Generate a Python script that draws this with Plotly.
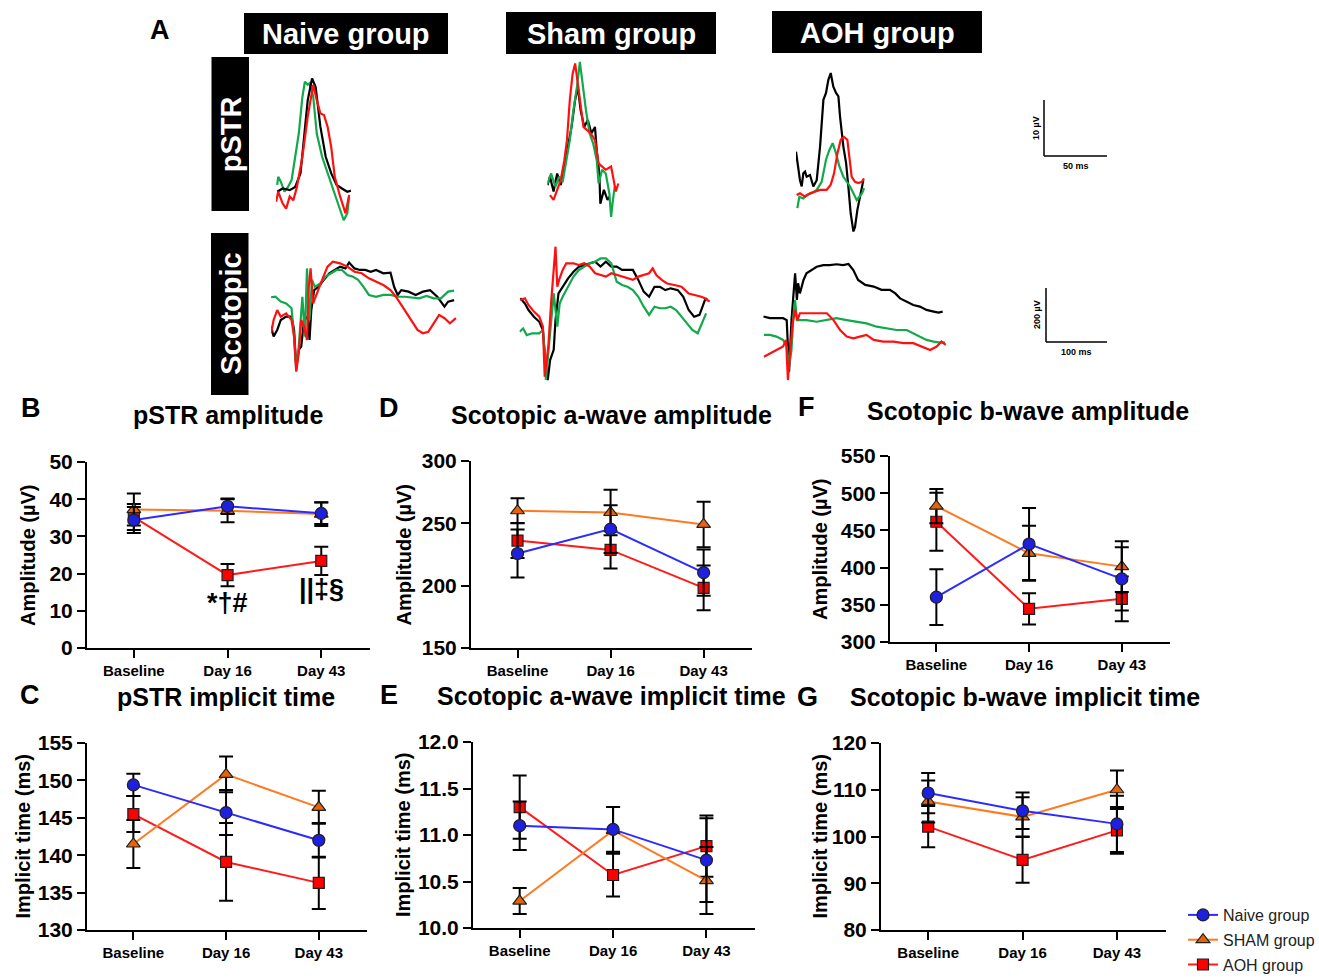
import plotly.graph_objects as go

W, H = 1319, 979
FONT = "Liberation Sans, Arial, Helvetica, sans-serif"

# ---------------- data ----------------
categories = ["Baseline", "Day 16", "Day 43"]
group_names = ["Naive group", "SHAM group", "AOH group"]

# B  pSTR amplitude (µV)
pstr_amp_naive = [34.4, 38.1, 36.2]
pstr_amp_naive_err = [3.5, 2.1, 2.9]
pstr_amp_sham = [37.2, 36.9, 36.0]
pstr_amp_sham_err = [4.3, 3.1, 3.2]
pstr_amp_aoh = [35.2, 19.6, 23.4]
pstr_amp_aoh_err = [3.5, 3.0, 3.8]

# D  scotopic a-wave amplitude (µV)
a_amp_naive = [225.8, 245.4, 210.5]
a_amp_naive_err = [19.3, 19.2, 18.5]
a_amp_sham = [260.1, 258.7, 249.1]
a_amp_sham_err = [10.0, 18.2, 18.2]
a_amp_aoh = [236.2, 228.7, 198.2]
a_amp_aoh_err = [14.0, 15.0, 18.0]

# F  scotopic b-wave amplitude (µV)
b_amp_naive = [360.3, 431.7, 384.8]
b_amp_naive_err = [37.5, 48.5, 42.5]
b_amp_sham = [482.6, 419.2, 401.3]
b_amp_sham_err = [23.0, 37.0, 34.0]
b_amp_aoh = [461.6, 344.6, 358.0]
b_amp_aoh_err = [39.0, 21.0, 30.0]

# C  pSTR implicit time (ms)
pstr_it_naive = [149.4, 145.7, 142.0]
pstr_it_naive_err = [1.5, 3.0, 2.3]
pstr_it_sham = [141.5, 150.8, 146.4]
pstr_it_sham_err = [3.2, 2.4, 2.2]
pstr_it_aoh = [145.5, 139.1, 136.3]
pstr_it_aoh_err = [2.4, 5.2, 3.5]

# E  scotopic a-wave implicit time (ms)
a_it_naive = [11.10, 11.06, 10.73]
a_it_naive_err = [0.26, 0.24, 0.45]
a_it_sham = [10.29, 11.05, 10.51]
a_it_sham_err = [0.14, 0.25, 0.36]
a_it_aoh = [11.30, 10.57, 10.88]
a_it_aoh_err = [0.34, 0.23, 0.33]

# G  scotopic b-wave implicit time (ms)
b_it_naive = [109.3, 105.5, 102.7]
b_it_naive_err = [4.3, 3.9, 6.0]
b_it_sham = [107.5, 104.2, 110.0]
b_it_sham_err = [4.5, 4.2, 4.1]
b_it_aoh = [102.1, 95.0, 101.3]
b_it_aoh_err = [4.4, 4.9, 5.0]

# A  representative waveforms: time (ms), amplitude (µV)
pstr_naive_black_t = [0.9, 5.2, 11, 15.4, 19.7, 22.6, 25.5, 29, 31.9, 35.7, 40, 44.4, 48.7, 53.1, 57.4, 60.3]
pstr_naive_black_v = [0, 0.6, 0.3, 0.9, 3.5, 9.8, 17.3, 21.4, 19.8, 12.3, 6.6, 3.5, 1.3, 0.6, 0, 0.2]
pstr_naive_green_t = [0.9, 1.7, 3.8, 6.7, 9.6, 12.5, 15.4, 18.3, 21.2, 23.2, 25.5, 27, 29.9, 32.8, 37.1, 41.5, 45.8, 50.2, 54.5, 57.4, 58.9]
pstr_naive_green_v = [1.3, 2.8, 1.9, 0, 0.9, 2.2, 6.6, 11, 17.9, 20.8, 20.2, 20.5, 18, 11, 6.6, 3.5, 0.3, -2.8, -5.4, -4.1, -1.0]
pstr_naive_red_t = [0, 1.7, 5.2, 8.1, 11, 13.9, 16.8, 21.2, 25.5, 29.9, 32.8, 35.7, 38.6, 41.5, 44.4, 47.3, 51.6, 56, 58.9]
pstr_naive_red_v = [-1.9, 0, -2.2, -3.2, -0.9, -1.6, 0.9, 6.6, 14.2, 20.2, 17.3, 14.8, 14.5, 12.3, 8.5, 2.8, -0.9, -4.1, -0.6]

pstr_sham_black_t = [0, 2, 4.9, 7.8, 10.7, 13.6, 16.5, 19.4, 22.3, 24.4, 26.7, 29.6, 32.5, 35.4, 38.3, 39.7, 41.8, 42.6, 45.5, 48.4, 49.9]
pstr_sham_black_v = [0.3, 1.9, -0.9, 2.5, 0.3, 3.8, 7.6, 11.3, 16.4, 18.9, 14.5, 11.3, 12.6, 10.1, 11.3, 6.9, 2.5, -3.2, -0.6, -2.5, -1.9]
pstr_sham_green_t = [0, 2.9, 6.4, 9.3, 12.2, 15.1, 18, 20.9, 23.8, 26.1, 28.1, 31, 33.9, 36.8, 39.7, 41.2, 44.1, 47, 49.9, 51.3, 52.8, 54.2]
pstr_sham_green_v = [0.6, 2.5, 0, 1.9, 0.9, 5, 8.8, 14.5, 18.9, 23.6, 19.5, 14.5, 10.1, 8.2, 5, 0.6, 3.2, 2.5, -1.3, -5.7, -2.5, 0]
pstr_sham_red_t = [2, 4.9, 7.8, 10.7, 13.6, 15.7, 18, 20.3, 22.3, 24.4, 26.7, 29, 31.9, 34.8, 38.3, 41.2, 44.1, 47, 51.3, 52.8, 55.1, 57.1]
pstr_sham_red_v = [-1.6, -2.5, -0.6, 1.3, 5, 8.8, 16.4, 21.4, 23.3, 19.5, 14.5, 11.3, 10.7, 10.1, 8.8, 4.4, 3.8, 3.2, 3.8, 1.9, -0.9, 0.6]

pstr_aoh_black_t = [0, 1.1, 3.2, 4.6, 5.9, 7.3, 8.6, 11.3, 14, 16.7, 19.4, 22.1, 24.2, 26.1, 28, 30.1, 32.3, 34.2, 35.5, 38.2, 40.4, 42.2, 44.1, 46.3, 47.6, 49.5, 51.6, 54.3]
pstr_aoh_black_v = [7.3, 5.3, 2.3, 1.2, 3.5, 3.8, 2.9, 3.2, 1.2, 2.3, 8.2, 16.4, 17.6, 19.9, 21.1, 18.7, 17.6, 17, 13.5, 8.2, 5.3, 1.2, -3.5, -6.7, -5.9, -2.9, -0.6, 2.3]
pstr_aoh_green_t = [1.1, 2.7, 5.9, 8.6, 12.6, 16.7, 20.7, 24.2, 26.9, 29.6, 32.3, 35, 38.2, 40.9, 43.6, 46.3, 49, 51.1, 53.3, 54.9]
pstr_aoh_green_v = [-2.6, -0.6, -0.9, -0.3, 0, 0.6, 2, 5.9, 7.6, 8.8, 7, 4.7, 2.9, 2, 1.2, 0, -1.2, -0.6, 0, 0.9]
pstr_aoh_red_t = [0.5, 3.2, 7.3, 11.3, 15.3, 19.4, 24.7, 28, 30.7, 33.4, 36.1, 38.7, 41.4, 43.6, 44.9, 47.6, 50.3, 53, 54.9]
pstr_aoh_red_v = [-0.3, 0, -0.6, 0, 0.3, 0.6, 0.6, 1.5, 3.5, 7, 9.4, 9.9, 9.4, 5.9, 2.9, 2, 1.8, 2, 2.6]

scot_naive_black_t = [0, 4.2, 10.2, 16.1, 25.1, 34.1, 38.3, 41.9, 46.1, 50.2, 55, 61, 64, 67, 71.8, 79, 88, 97, 106, 115, 124, 130, 139, 148, 157, 166, 175, 187, 199, 205, 211, 217, 229, 241, 253, 265, 277, 289, 295, 305]
scot_naive_black_v = [-26, -65, -39, 0, 13, 13, -39, -183, -117, -104, 0, 13, -78, 39, 117, 130, 157, 183, 196, 209, 202, 225, 202, 196, 196, 189, 196, 183, 185, 130, 98, 117, 111, 98, 111, 117, 91, 52, 72, 78]
scot_naive_green_t = [0, 7.2, 16.1, 25.1, 34.1, 38.3, 41.9, 46.1, 52.1, 56.3, 59.8, 64, 68.2, 73, 82, 91, 100, 109, 118, 127, 136, 145, 154, 163, 175, 187, 199, 211, 223, 235, 247, 259, 271, 283, 295, 305]
scot_naive_green_v = [89, 91, 72, 65, 46, -65, -196, -104, 91, -65, 202, 0, 157, 130, 143, 170, 183, 196, 196, 176, 170, 157, 130, 98, 91, 98, 98, 91, 91, 89, 85, 94, 85, 85, 111, 115]
scot_naive_red_t = [0, 4.2, 10.2, 16.1, 25.1, 34.1, 38.3, 41.9, 46.1, 50.2, 55, 59.8, 62.8, 65.8, 70, 76, 85, 94, 103, 115, 127, 139, 151, 163, 175, 187, 199, 208, 217, 226, 235, 244, 253, 262, 271, 280, 289, 298, 308]
scot_naive_red_v = [-52, 0, 39, 13, 26, 0, -65, -202, -130, 0, -26, -78, 130, 202, 65, 104, 157, 209, 228, 222, 209, 189, 183, 163, 150, 137, 117, 91, 59, 26, -7, -39, -52, -46, -13, 20, 7, -13, 7]

scot_sham_black_t = [1.2, 9, 15, 24, 33, 39, 43, 47, 51, 57, 60, 65, 72, 81, 90, 99, 108, 117, 126, 135, 144, 153, 162, 171, 180, 189, 198, 207, 216, 225, 234, 243, 252, 264, 273, 282, 291, 300, 309, 313]
scot_sham_black_v = [85, 65, 39, 13, -7, -39, -157, -235, -157, -117, 0, 104, 130, 163, 189, 209, 215, 222, 228, 209, 228, 209, 209, 196, 196, 196, 157, 111, 91, 130, 130, 117, 124, 117, 91, 39, 13, 20, 78, 85]
scot_sham_green_t = [0, 6, 12, 21, 33, 39, 42, 44, 48, 53, 57, 63, 67, 72, 81, 90, 99, 108, 117, 126, 135, 144, 153, 162, 171, 180, 189, 198, 207, 216, 225, 234, 243, 252, 261, 270, 279, 288, 297, 306, 311]
scot_sham_green_v = [-46, -33, -59, -52, -52, -39, -130, -235, -130, 0, 104, -26, 65, 91, 130, 170, 196, 209, 222, 228, 241, 241, 222, 150, 137, 130, 117, 91, 52, 20, 52, 46, 46, 52, 39, 13, -13, -39, -52, 0, 26]
scot_sham_red_t = [1.2, 9, 15, 24, 33, 39, 42, 45, 48, 53, 57, 60, 63, 66, 72, 78, 90, 99, 108, 117, 126, 135, 144, 153, 162, 171, 180, 189, 198, 207, 216, 222, 228, 237, 246, 258, 270, 282, 294, 303, 309, 317]
scot_sham_red_v = [78, 85, 59, 33, 13, -26, -222, -157, -104, 78, 196, 287, 130, 157, 196, 222, 222, 215, 222, 209, 183, 176, 170, 183, 176, 170, 163, 157, 170, 176, 183, 202, 176, 157, 143, 137, 130, 104, 98, 91, 85, 72]

scot_aoh_black_t = [0, 11, 22, 33, 39, 43, 47, 50, 53, 56, 58, 61, 67, 72, 81, 89, 100, 111, 122, 133, 142, 150, 158, 170, 184, 197, 211, 220, 228, 239, 250, 261, 272, 284, 292, 299]
scot_aoh_black_v = [61, 55, 55, 55, 48, -140, 48, 121, 218, 121, 182, 145, 194, 218, 230, 242, 248, 248, 251, 248, 252, 230, 194, 176, 170, 158, 158, 145, 127, 115, 103, 97, 85, 79, 75, 79]
scot_aoh_green_t = [1, 11, 22, 33, 39, 43, 47, 50, 53, 56, 61, 72, 89, 106, 122, 139, 156, 172, 189, 206, 222, 239, 250, 261, 272, 284, 295, 303]
scot_aoh_green_v = [-6, -6, -12, -24, -48, -121, -61, 61, 121, 48, 48, 48, 42, 48, 55, 48, 42, 36, 24, 18, 12, 12, 0, -12, -24, -30, -34, -34]
scot_aoh_red_t = [1, 11, 22, 33, 38, 41, 45, 49, 53, 57, 61, 72, 89, 106, 117, 128, 139, 150, 161, 172, 184, 200, 217, 234, 250, 264, 278, 289, 297, 304]
scot_aoh_red_v = [-85, -73, -61, -48, -24, -170, -61, 36, 85, 48, 73, 73, 73, 73, 48, 12, -12, -18, -12, -6, -24, -30, -30, -36, -36, -48, -61, -48, -30, -42]

# ---------------- helpers ----------------
def fx(p):
    return p / W


def fy(p):
    return 1 - p / H


STYLES = {
    "Naive group": dict(line="#2b2bff", fill="#1f1fe0", symbol="circle", size=12, rank=1),
    "SHAM group": dict(line="#ff7a1f", fill="#e8620a", symbol="triangle-up", size=12, rank=2),
    "AOH group": dict(line="#ff1a1a", fill="#ff0000", symbol="square", size=11, rank=3),
}
TRACE_COLORS = {"black": "#000000", "green": "#12a84c", "red": "#ff1010"}

fig = go.Figure()
layout = {}
annotations = []
shapes = []

panels = [
    dict(idx=1, box=(87, 370, 462, 648), yr=[0, 50], dtick=10, fmt="", ytitle="Amplitude (µV)", ytx=28,
         title="pSTR amplitude", txy=(228, 415), letter="B", lxy=(31, 408),
         series=[(pstr_amp_naive, pstr_amp_naive_err), (pstr_amp_sham, pstr_amp_sham_err), (pstr_amp_aoh, pstr_amp_aoh_err)]),
    dict(idx=2, box=(471, 752, 461, 648), yr=[150, 300], dtick=50, fmt="", ytitle="Amplitude (µV)", ytx=403,
         title="Scotopic a-wave amplitude", txy=(611, 415), letter="D", lxy=(389, 408),
         series=[(a_amp_naive, a_amp_naive_err), (a_amp_sham, a_amp_sham_err), (a_amp_aoh, a_amp_aoh_err)]),
    dict(idx=3, box=(890, 1170, 456, 642), yr=[300, 550], dtick=50, fmt="", ytitle="Amplitude (µV)", ytx=820,
         title="Scotopic b-wave amplitude", txy=(1028, 411), letter="F", lxy=(806, 407),
         series=[(b_amp_naive, b_amp_naive_err), (b_amp_sham, b_amp_sham_err), (b_amp_aoh, b_amp_aoh_err)]),
    dict(idx=4, box=(87, 367, 743, 930), yr=[130, 155], dtick=5, fmt="", ytitle="Implicit time (ms)", ytx=22,
         title="pSTR implicit time", txy=(226, 697), letter="C", lxy=(30, 695),
         series=[(pstr_it_naive, pstr_it_naive_err), (pstr_it_sham, pstr_it_sham_err), (pstr_it_aoh, pstr_it_aoh_err)]),
    dict(idx=5, box=(473, 755, 742, 928), yr=[10, 12], dtick=0.5, fmt=".1f", ytitle="Implicit time (ms)", ytx=403,
         title="Scotopic a-wave implicit time", txy=(611, 696), letter="E", lxy=(389, 695),
         series=[(a_it_naive, a_it_naive_err), (a_it_sham, a_it_sham_err), (a_it_aoh, a_it_aoh_err)]),
    dict(idx=6, box=(881, 1166, 743, 930), yr=[80, 120], dtick=10, fmt="", ytitle="Implicit time (ms)", ytx=819,
         title="Scotopic b-wave implicit time", txy=(1025, 697), letter="G", lxy=(807, 697),
         series=[(b_it_naive, b_it_naive_err), (b_it_sham, b_it_sham_err), (b_it_aoh, b_it_aoh_err)]),
]

for p in panels:
    i = p["idx"]
    x0, x1, y0, y1 = p["box"]
    layout[f"xaxis{i}"] = dict(
        domain=[fx(x0), fx(x1)], anchor=f"y{i}", type="category",
        categoryorder="array", categoryarray=categories, range=[-0.5, 2.52],
        showline=True, linecolor="black", linewidth=2, ticks="outside", ticklen=8,
        tickwidth=2, tickcolor="black", showgrid=False, zeroline=False,
        tickfont=dict(family=FONT, size=15, color="black", weight="bold"),
    )
    layout[f"yaxis{i}"] = dict(
        domain=[fy(y1), fy(y0)], anchor=f"x{i}", range=p["yr"], tick0=p["yr"][0],
        dtick=p["dtick"], tickformat=p["fmt"], showline=True, linecolor="black",
        linewidth=2, ticks="outside", ticklen=8, tickwidth=2, tickcolor="black",
        showgrid=False, zeroline=False,
        tickfont=dict(family=FONT, size=21, color="black", weight="bold"),
    )
    # draw AOH, SHAM then Naive (naive on top)
    for gi in [2, 1, 0]:
        name = group_names[gi]
        st = STYLES[name]
        vals, errs = p["series"][gi]
        fig.add_trace(go.Scatter(
            x=categories, y=vals, name=name, mode="lines+markers",
            xaxis=f"x{i}", yaxis=f"y{i}", legendgroup=name,
            line=dict(color=st["line"], width=2),
            marker=dict(symbol=st["symbol"], size=st["size"], color=st["fill"],
                        line=dict(color="#202020", width=1.2)),
            error_y=dict(type="data", array=errs, visible=True, color="black",
                         thickness=2, width=7),
            showlegend=(i == 6), legendrank=st["rank"], cliponaxis=False,
        ))
    yc = (y0 + y1) / 2
    annotations.append(dict(x=fx(p["ytx"]), y=fy(yc), xref="paper", yref="paper",
                            text=p["ytitle"], textangle=-90, showarrow=False,
                            font=dict(family=FONT, size=20, color="black", weight="bold"),
                            xanchor="center", yanchor="middle"))
    annotations.append(dict(x=fx(p["txy"][0]), y=fy(p["txy"][1]), xref="paper", yref="paper",
                            text=p["title"], showarrow=False,
                            font=dict(family=FONT, size=25, color="black", weight="bold"),
                            xanchor="center", yanchor="middle"))
    annotations.append(dict(x=fx(p["lxy"][0]), y=fy(p["lxy"][1]), xref="paper", yref="paper",
                            text=p["letter"], showarrow=False,
                            font=dict(family=FONT, size=27, color="black", weight="bold"),
                            xanchor="center", yanchor="middle"))

# significance marks in B
annotations.append(dict(x="Day 16", y=12.1, xref="x1", yref="y1", text="*†#", showarrow=False,
                        font=dict(family=FONT, size=27, color="black", weight="bold")))
annotations.append(dict(x="Day 43", y=15.9, xref="x1", yref="y1", text="||‡§", showarrow=False,
                        font=dict(family=FONT, size=27, color="black", weight="bold")))

# ---------------- panel A: waveforms ----------------
wave_cells = [
    (7, 276.1, 191.7, 1.24, 5.29, 50, 245,
     [(pstr_naive_green_t, pstr_naive_green_v, "green"), (pstr_naive_black_t, pstr_naive_black_v, "black"), (pstr_naive_red_t, pstr_naive_red_v, "red")]),
    (8, 547.5, 186.7, 1.24, 5.29, 50, 245,
     [(pstr_sham_black_t, pstr_sham_black_v, "black"), (pstr_sham_green_t, pstr_sham_green_v, "green"), (pstr_sham_red_t, pstr_sham_red_v, "red")]),
    (9, 796.0, 193.3, 1.24, 5.7, 50, 245,
     [(pstr_aoh_black_t, pstr_aoh_black_v, "black"), (pstr_aoh_green_t, pstr_aoh_green_v, "green"), (pstr_aoh_red_t, pstr_aoh_red_v, "red")]),
    (10, 271.1, 320.0, 0.6, 0.2554, 240, 400,
     [(scot_naive_black_t, scot_naive_black_v, "black"), (scot_naive_green_t, scot_naive_green_v, "green"), (scot_naive_red_t, scot_naive_red_v, "red")]),
    (11, 519.5, 320.0, 0.6, 0.2554, 240, 400,
     [(scot_sham_black_t, scot_sham_black_v, "black"), (scot_sham_green_t, scot_sham_green_v, "green"), (scot_sham_red_t, scot_sham_red_v, "red")]),
    (12, 763.3, 333.3, 0.6, 0.275, 240, 400,
     [(scot_aoh_black_t, scot_aoh_black_v, "black"), (scot_aoh_green_t, scot_aoh_green_v, "green"), (scot_aoh_red_t, scot_aoh_red_v, "red")]),
]
for (i, x0, yb, pxms, pxuv, top, bot, traces) in wave_cells:
    width_px = 230
    layout[f"xaxis{i}"] = dict(domain=[fx(x0), fx(x0 + width_px)], anchor=f"y{i}",
                               range=[0, width_px / pxms], visible=False, showgrid=False, zeroline=False)
    layout[f"yaxis{i}"] = dict(domain=[fy(bot), fy(top)], anchor=f"x{i}",
                               range=[-(bot - yb) / pxuv, (yb - top) / pxuv],
                               visible=False, showgrid=False, zeroline=False)
    for t, v, c in traces:
        fig.add_trace(go.Scatter(x=t, y=v, mode="lines", xaxis=f"x{i}", yaxis=f"y{i}",
                                 line=dict(color=TRACE_COLORS[c], width=2.2), showlegend=False,
                                 hoverinfo="skip", cliponaxis=False))

# header boxes
header_boxes = [("Naive group", 244, 448, 13, 54), ("Sham group", 506, 716, 12, 54), ("AOH group", 772, 982, 11, 53)]
for txt, a, b, c, d in header_boxes:
    shapes.append(dict(type="rect", xref="paper", yref="paper", x0=fx(a), x1=fx(b), y0=fy(d), y1=fy(c),
                       fillcolor="black", line=dict(width=0)))
    annotations.append(dict(x=fx((a + b) / 2), y=fy((c + d) / 2 + 1), xref="paper", yref="paper", text=txt,
                            showarrow=False, font=dict(family=FONT, size=29, color="white", weight="bold"),
                            xanchor="center", yanchor="middle"))
row_boxes = [("pSTR", 211.5, 249, 57, 211), ("Scotopic", 211, 248.5, 233, 395)]
for txt, a, b, c, d in row_boxes:
    shapes.append(dict(type="rect", xref="paper", yref="paper", x0=fx(a), x1=fx(b), y0=fy(d), y1=fy(c),
                       fillcolor="black", line=dict(width=0)))
    annotations.append(dict(x=fx((a + b) / 2 + 1), y=fy((c + d) / 2), xref="paper", yref="paper", text=txt,
                            textangle=-90, showarrow=False,
                            font=dict(family=FONT, size=29, color="white", weight="bold"),
                            xanchor="center", yanchor="middle"))
annotations.append(dict(x=fx(160), y=fy(30), xref="paper", yref="paper", text="A", showarrow=False,
                        font=dict(family=FONT, size=27, color="black", weight="bold"),
                        xanchor="center", yanchor="middle"))

# scale bars
scale_bars = [(1044, 100, 156, 1107, "10 µV", "50 ms", 1036, 128, 1076, 166),
              (1046, 288, 342, 1107, "200 µV", "100 ms", 1037, 315, 1076, 352)]
for xv, ytop, ybot, xend, vlab, hlab, vlx, vly, hlx, hly in scale_bars:
    shapes.append(dict(type="line", xref="paper", yref="paper", x0=fx(xv), x1=fx(xv), y0=fy(ytop), y1=fy(ybot),
                       line=dict(color="black", width=1.5)))
    shapes.append(dict(type="line", xref="paper", yref="paper", x0=fx(xv), x1=fx(xend), y0=fy(ybot), y1=fy(ybot),
                       line=dict(color="black", width=1.5)))
    annotations.append(dict(x=fx(vlx), y=fy(vly), xref="paper", yref="paper", text=vlab, textangle=-90,
                            showarrow=False, font=dict(family=FONT, size=9, color="black", weight="bold"),
                            xanchor="center", yanchor="middle"))
    annotations.append(dict(x=fx(hlx), y=fy(hly), xref="paper", yref="paper", text=hlab,
                            showarrow=False, font=dict(family=FONT, size=9, color="black", weight="bold"),
                            xanchor="center", yanchor="middle"))

fig.update_layout(
    width=W, height=H, margin=dict(l=0, r=0, t=0, b=0, autoexpand=False),
    paper_bgcolor="white", plot_bgcolor="rgba(0,0,0,0)",
    font=dict(family=FONT, color="black"),
    annotations=annotations, shapes=shapes,
    legend=dict(x=fx(1183), y=fy(898), xanchor="left", yanchor="top",
                font=dict(family=FONT, size=16, color="#222"), bgcolor="rgba(0,0,0,0)",
                itemwidth=30, tracegroupgap=1),
    **layout,
)

fig.write_html("out.html", config={"displayModeBar": False},
               post_script="document.body.style.margin='0';document.body.style.overflow='hidden';")
